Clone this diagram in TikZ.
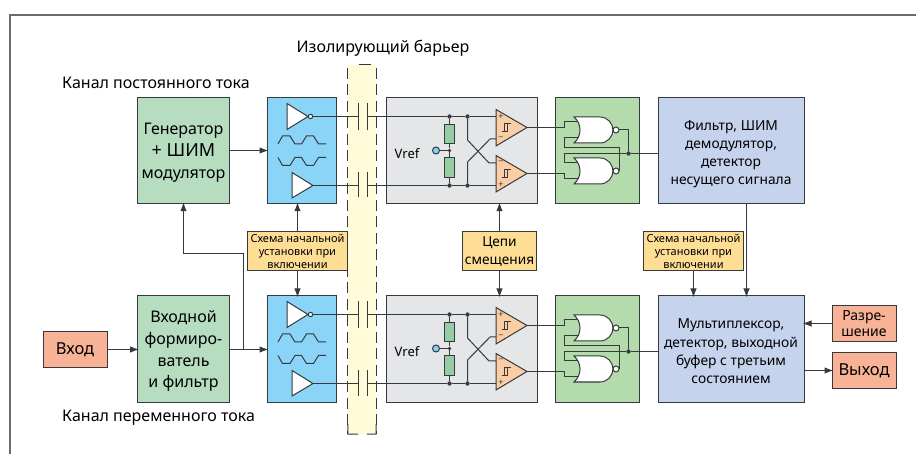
\documentclass[tikz,border=0pt]{standalone}
\usepackage{fontspec}
\setmainfont{Noto Sans}
\usetikzlibrary{arrows.meta,positioning}
\definecolor{linegray}{RGB}{55,58,60}
\definecolor{framegray}{RGB}{105,108,110}
\definecolor{blockgreen}{RGB}{183,221,193}
\definecolor{gatesgreen}{RGB}{180,219,172}
\definecolor{filterblue}{RGB}{197,211,236}
\definecolor{drvblue}{RGB}{137,212,247}
\definecolor{rxgray}{RGB}{228,230,232}
\definecolor{iosalmon}{RGB}{248,178,150}
\definecolor{notesand}{RGB}{254,221,148}
\definecolor{barrieryellow}{RGB}{255,250,215}
\definecolor{cmpsalmon}{RGB}{250,205,165}
\definecolor{resgreen}{RGB}{150,205,165}
\definecolor{vrefblue}{RGB}{130,210,240}
\tikzset{
  block/.style={draw=linegray,line width=1pt,minimum width=#1,minimum height=106.5pt,inner sep=0pt,align=center,font=\fontsize{16}{21.7}\selectfont},
  iobox/.style={draw=linegray,line width=1pt,fill=iosalmon,inner sep=0pt,minimum width=64pt,minimum height=36pt,align=center},
  note/.style={draw=linegray,line width=1pt,fill=notesand,inner sep=0pt,minimum height=39pt,align=center,font=\fontsize{11}{12.8}\selectfont},
  wire/.style={draw=linegray,line width=1pt},
  conn/.style={wire,-{Latex[length=9pt,width=6.5pt]},shorten >=-2pt},
  dashline/.style={draw=linegray,line width=1pt,dash pattern=on 11pt off 5.5pt},
  dot/.style={circle,fill=linegray,inner sep=0pt,minimum size=4.4pt},
  res/.style={draw=linegray,line width=1pt,fill=resgreen,inner sep=0pt,minimum width=10pt,minimum height=19.5pt},
  sign/.style={font=\fontsize{9}{9}\selectfont,text=linegray,inner sep=0pt},
  caption/.style={font=\fontsize{16}{18}\selectfont,anchor=west,inner sep=0pt},
  norgate/.pic={
    \draw[wire,fill=white] (0,-13) -- (26,-13) .. controls (34,-13) and (39,-6) .. (39,0)
      .. controls (39,6) and (34,13) .. (26,13) -- (0,13) .. controls (8,6) and (8,-6) .. (0,-13) -- cycle;
    \draw[wire,fill=white] (42,0) circle (3);
  },
  hyst/.pic={
    \draw[wire,line width=.9pt] (-4.5,4) -- (1.5,4) -- (1.5,-4) -- (5,-4);
    \draw[wire,line width=.9pt] (-1.5,4) -- (-1.5,-4) -- (3.5,-4);
  }
}
\begin{document}
\begin{tikzpicture}[x=1pt,y=-1pt]
  \useasboundingbox (0,0) rectangle (916,454);
  % frame
  \draw[framegray,line width=1.2pt] (10,454) -- (10,15) -- (916,15);

  % barrier
  \node[fill=barrieryellow,inner sep=0pt,minimum width=28pt,minimum height=369pt] (barrier) at (362,249.5) {};
  \draw[dashline] (barrier.north west) ++(0,3) -- (barrier.south west);
  \draw[dashline] (barrier.north east) ++(0,3) -- (barrier.south east);
  \draw[draw=linegray,line width=1pt] (358.5,65) -- (370.5,65);
  \draw[draw=linegray,line width=1pt] (348,424) -- (barrier.south west) -- (358,434);
  \draw[draw=linegray,line width=1pt] (376,424) -- (barrier.south east) -- (367,434);
  \node[font=\fontsize{16}{18}\selectfont] (barriertxt) at (383,48) {Изолирующий барьер};

  \foreach \ch/\dy/\my in {t/0/150.5,b/198/349.2}{
    % blocks of the channel
    \node[block=69pt,fill=drvblue] (drv\ch) at (301.5,\my) {};
    \node[block=151pt,fill=rxgray] (rx\ch) at (461.5,\my) {};
    \node[block=84pt,fill=gatesgreen] (gates\ch) at (597,\my) {};
    \begin{scope}[yshift=-\dy pt]
      % drivers
      \draw[wire,fill=white] (287,103.5) -- (308,116.5) -- (287,129.5) -- cycle;
      \node[circle,draw=linegray,line width=1pt,fill=white,inner sep=0pt,minimum size=4.4pt] (bub\ch) at (310.5,116.5) {};
      \draw[wire,fill=white] (292,172.5) -- (313,185.5) -- (292,198) -- cycle;
      \coordinate (out\ch) at (313,185.5);
      \draw[wire] (278,144) -- (282.5,136) -- (290,136) -- (295,144) -- (301.5,144) -- (306.5,136) -- (313.5,136) -- (318.5,144) -- (326,144);
      \draw[wire] (278,157.5) -- (282.5,165.5) -- (290,165.5) -- (295,157.5) -- (301.5,157.5) -- (306.5,165.5) -- (313.5,165.5) -- (318.5,157.5) -- (326,157.5);

      % capacitors
      \coordinate (capa\ch) at (358,116.5);
      \coordinate (capb\ch) at (367,116.5);
      \coordinate (capc\ch) at (358,185.5);
      \coordinate (capd\ch) at (367,185.5);
      \draw[wire] (358,103.5) -- (358,130);
      \draw[wire] (367,103.5) -- (367,130);
      \draw[wire] (358,172) -- (358,197.5);
      \draw[wire] (367,172) -- (367,197.5);
      \draw[wire] (bub\ch) -- (capa\ch);
      \draw[wire] (out\ch) -- (capc\ch);

      % comparators
      \draw[wire,fill=cmpsalmon] (496,109.5) -- (527,127.5) -- (496,146) -- cycle;
      \draw[wire,fill=cmpsalmon] (496,155.5) -- (527,173.5) -- (496,192) -- cycle;
      \pic at (506,127.7) {hyst};
      \pic at (506,173.7) {hyst};
      \node[sign] (pa\ch) at (501,117) {+};
      \node[sign] (ma\ch) at (501,139) {−};
      \node[sign] (mb\ch) at (501,163) {−};
      \node[sign] (pb\ch) at (501,185) {+};

      % divider
      \node[dot] (ja\ch) at (449.5,116.5) {};
      \node[dot] (jb\ch) at (467.5,116.5) {};
      \node[dot] (jc\ch) at (449.5,185.5) {};
      \node[dot] (jd\ch) at (467.5,185.5) {};
      \node[dot,minimum size=3.6pt] (jm\ch) at (449.5,150.5) {};
      \node[res] (ra\ch) at (449.5,134) {};
      \node[res] (rb\ch) at (449.5,167.5) {};
      \node[circle,draw=linegray,line width=1pt,fill=vrefblue,inner sep=0pt,minimum size=7pt] (vr\ch) at (436,150.5) {};
      \node[font=\fontsize{13}{15}\selectfont] (vreftxt\ch) at (407,154) {Vref};
      \coordinate (ina\ch) at (496,116.5);
      \coordinate (inb\ch) at (496,185.5);
      \draw[wire] (capb\ch) -- (ja\ch) -- (jb\ch) -- (ina\ch);
      \draw[wire] (capd\ch) -- (jc\ch) -- (jd\ch) -- (inb\ch);
      \draw[wire] (ja\ch) -- (ra\ch) -- (jm\ch) -- (rb\ch) -- (jc\ch);
      \draw[wire] (vr\ch) -- (jm\ch);
      \draw[wire] (jb\ch) -- (467.5,140) -- (489,163) -- (496,163);
      \draw[wire] (jd\ch) -- (467.5,162) -- (490,139) -- (496,139);

      % gates
      \pic at (574,130) {norgate};
      \pic at (574,171) {norgate};
      \node[dot] (js\ch) at (628.5,153.5) {};
      \draw[wire] (527,127.5) -- (564,127.5) -- (564,122) -- (578,122);
      \draw[wire] (527,173.5) -- (564,173.5) -- (564,179) -- (578,179);
      \draw[wire] (619,130) -- (628.5,130) -- (js\ch);
      \draw[wire] (578,138) -- (564,138) -- (564,148) -- (619,148) -- (619,171);
      \draw[wire] (578,163) -- (564,163) -- (564,153.5) -- (js\ch);
    \end{scope}
  }

  % big blocks
  \node[block=92pt,fill=blockgreen] (gen) at (183.5,150.5) {\rule{0pt}{16pt}Генератор\\{\fontsize{18}{21.7}\selectfont + ШИМ}\\модулятор};
  \node[block=92pt,fill=blockgreen] (former) at (183.5,349.2) {\rule{0pt}{16pt}Входной\\формиро-\\ватель\\и фильтр};
  \node[block=146pt,fill=filterblue,font=\fontsize{13.8}{18.2}\selectfont] (filter) at (731,150.5) {\rule{0pt}{17pt}Фильтр, ШИМ\\демодулятор,\\детектор\\несущего сигнала};
  \node[block=146pt,fill=filterblue,font=\fontsize{13.8}{18.2}\selectfont] (mux) at (731,349.2) {\rule{0pt}{14pt}Мультиплексор,\\детектор, выходной\\буфер с третьим\\состоянием};

  \node[iobox,font=\fontsize{16.5}{18}\selectfont] (vhod) at (75,349.5) {Вход};
  \node[iobox,font=\fontsize{14}{16}\selectfont] (enable) at (864,323.5) {Разре-\\шение};
  \node[iobox,font=\fontsize{16.5}{18}\selectfont] (vyhod) at (864,370.5) {Выход};

  \node[note,minimum width=100pt] (porl) at (297.5,251.5) {Схема начальной\\установки при\\включении};
  \node[note,minimum width=74pt,font=\fontsize{13.7}{18}\selectfont] (bias) at (499.5,251.5) {Цепи\\смещения};
  \node[note,minimum width=100pt] (porr) at (693.5,251.5) {Схема начальной\\установки при\\включении};

  \node[caption] (dccap) at (62,83) {Канал постоянного тока};
  \node[caption] (accap) at (62,418) {Канал переменного тока};

  % links
  \draw[conn] (gen) -- (drvt);
  \draw[conn] (vhod) -- (former.west |- vhod);
  \draw[conn] (former.east |- vhod) -- (drvb.west |- vhod);
  \coordinate (branch) at (243.5,349.5);
  \draw[conn] (branch) -- (243.5,253.5) -- (183.5,253.5) -- (gen.south);
  \draw[conn] (porl.north) -- (drvt.south -| porl.north);
  \draw[conn] (porl.south) -- (drvb.north -| porl.south);
  \draw[conn] (bias.north) -- (rxt.south -| bias.north);
  \draw[conn] (bias.south) -- (rxb.north -| bias.south);
  \draw[conn] (porr.south) -- (mux.north -| porr.south);
  \draw[conn] (filter.south -| 746.5,0) -- (mux.north -| 746.5,0);
  \draw[conn] (enable) -- (mux.east |- enable);
  \draw[conn] (mux.east |- vyhod) -- (vyhod);
  \draw[wire] (jst) -- (filter.west |- jst);
  \draw[wire] (jsb) -- (mux.west |- jsb);
\end{tikzpicture}
\end{document}
